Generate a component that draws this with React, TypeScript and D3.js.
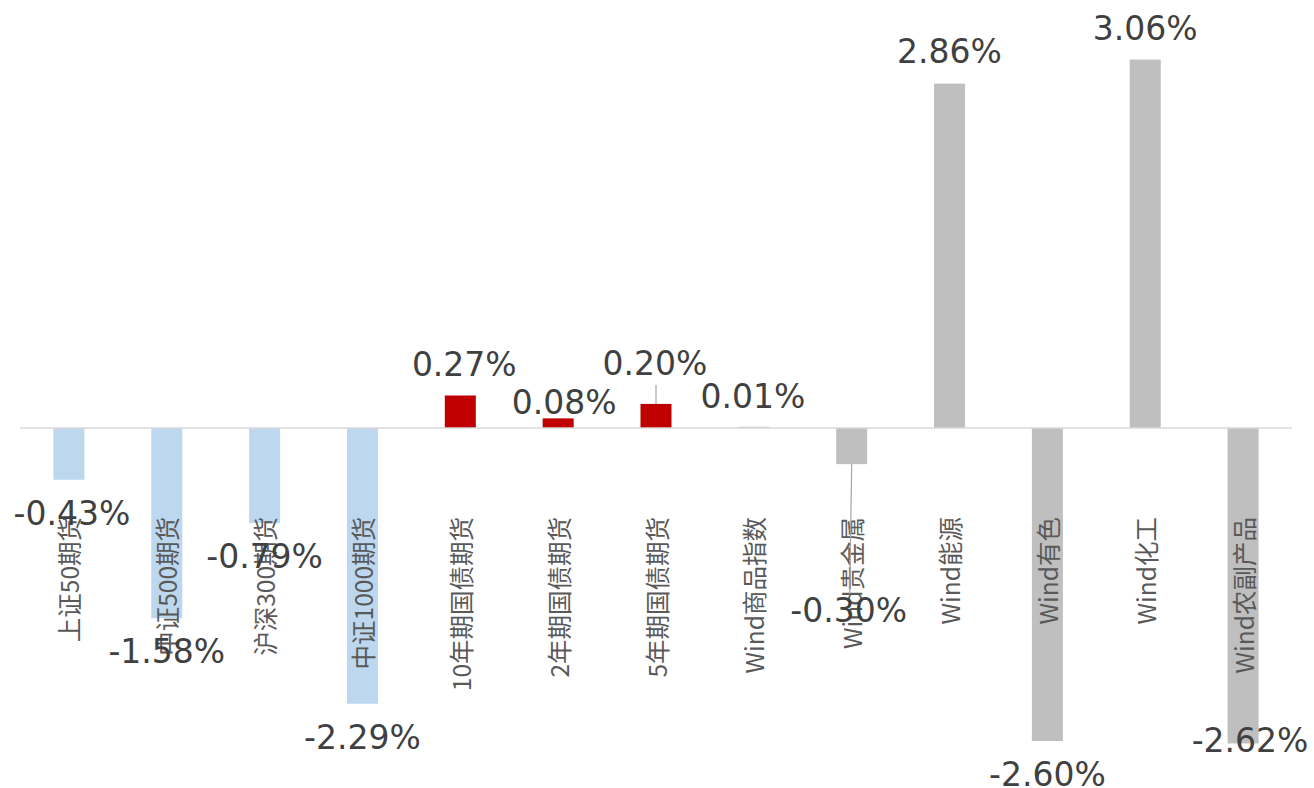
import React from "react";
import * as d3 from "d3";

const categories = [
  "上证50期货", "中证500期货", "沪深300期货", "中证1000期货",
  "10年期国债期货", "2年期国债期货", "5年期国债期货",
  "Wind商品指数", "Wind贵金属", "Wind能源", "Wind有色", "Wind化工", "Wind农副产品",
];
const values = [-0.43, -1.58, -0.79, -2.29, 0.27, 0.08, 0.2, 0.01, -0.3, 2.86, -2.6, 3.06, -2.62];
const groups = ["equity", "equity", "equity", "equity", "bond", "bond", "bond",
  "commodity", "commodity", "commodity", "commodity", "commodity", "commodity"];

const groupColor: Record<string, string> = {
  equity: "#bdd7ee",
  bond: "#c00000",
  commodity: "#bfbfbf",
};

// manual label nudges (dx, dy in px) and leader lines, as in the original
const labelNudge: Record<number, { dx: number; dy: number; leader?: boolean }> = {
  0: { dx: 3, dy: 0 },
  4: { dx: 4, dy: 1 },
  5: { dx: 6, dy: 16 },
  6: { dx: -1, dy: -9, leader: true },
  7: { dx: -1, dy: 1 },
  8: { dx: -3, dy: 113, leader: true },
  9: { dx: 0, dy: -1 },
  11: { dx: 0, dy: 0 },
  12: { dx: 7, dy: -36 },
};

export default function App() {
  const W = 1314, H = 788;
  const x = d3.scaleBand<string>()
    .domain(categories)
    .range([20, 1292])
    .paddingInner(0.683)
    .paddingOuter(0.3415);
  const y = d3.scaleLinear().domain([-3, 3.5]).range([428 + 3 * 120.4, 428 - 3.5 * 120.4]);
  const y0 = y(0);
  const fmt = (v: number) => v.toFixed(2) + "%";

  return (
    <svg width={W} height={H} style={{ position: "absolute", left: 0, top: 0, background: "#fff" }}>
      {values.map((v, i) => {
        const bx = x(categories[i])!;
        const yv = y(v);
        return (
          <rect key={"b" + i} x={bx} width={x.bandwidth()}
            y={Math.min(yv, y0)} height={Math.abs(yv - y0)}
            fill={groupColor[groups[i]]} />
        );
      })}
      <line x1={20} x2={1292} y1={y0} y2={y0} stroke="#d9d9d9" strokeWidth={1.5} />
      {categories.map((c, i) => {
        const cx = x(c)! + x.bandwidth() / 2;
        return (
          <text key={"c" + i} transform={`translate(${cx},517) rotate(-90)`}
            textAnchor="end" dominantBaseline="central"
            fontFamily="'Noto Sans CJK SC', 'Noto Sans', sans-serif" fontSize={24.5}
            fill="#595959">{c}</text>
        );
      })}
      {values.map((v, i) => {
        const cx = x(categories[i])! + x.bandwidth() / 2;
        const yv = y(v);
        const n = labelNudge[i] || { dx: 0, dy: 0 };
        const base = v >= 0 ? yv - 20 : yv + 45;
        const ly = base + n.dy;
        const lx = cx + n.dx;
        let leader = null;
        if (n.leader) {
          if (v >= 0) {
            leader = <line x1={cx} x2={cx} y1={ly + 10} y2={yv} stroke="#a6a6a6" strokeWidth={1.2} />;
          } else {
            leader = <line x1={cx} x2={lx + 1} y1={yv} y2={ly - 28} stroke="#a6a6a6" strokeWidth={1.2} />;
          }
        }
        return (
          <g key={"l" + i}>
            {leader}
            <text x={lx} y={ly} textAnchor="middle"
              fontFamily="'DejaVu Sans', Verdana, sans-serif" fontSize={33}
              fill="#404040">{fmt(v)}</text>
          </g>
        );
      })}
    </svg>
  );
}
